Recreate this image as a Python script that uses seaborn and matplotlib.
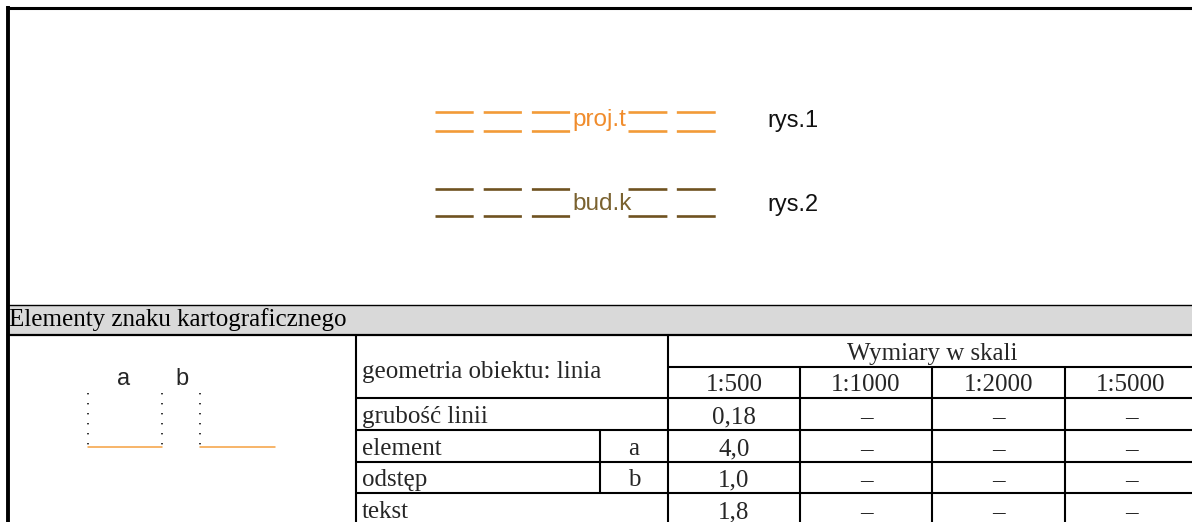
import matplotlib
matplotlib.use("Agg")
import matplotlib.pyplot as plt
import seaborn as sns

# Dane tabeli
skale = ["1:500", "1:1000", "1:2000", "1:5000"]
wiersze = ["grubość linii", "element", "odstęp", "tekst"]
oznaczenia = ["", "a", "b", ""]
wymiary_500 = ["0,18", "4,0", "1,0", "1,8"]
wymiary_1000 = ["–", "–", "–", "–"]
wymiary_2000 = ["–", "–", "–", "–"]
wymiary_5000 = ["–", "–", "–", "–"]

# Opisy znaków
znaki = ["proj.t", "bud.k"]
rysunki = ["rys.1", "rys.2"]
kolory_linii = ["#f29b38", "#6f5220"]
kolory_tekstu = ["#f08c2c", "#7a6230"]

sns.set_theme(style="white")
plt.rcParams["lines.scale_dashes"] = False
SERIF = ["Liberation Serif", "DejaVu Serif"]
SANS = ["Liberation Sans", "DejaVu Sans"]

W, H = 1192, 522
fig = plt.figure(figsize=(W / 100, H / 100), dpi=100)
ax = fig.add_axes([0, 0, 1, 1])
ax.set_xlim(0, W)
ax.set_ylim(H, 0)
ax.axis("off")

# Ramka górna
ax.plot([6, W], [7.5, 7.5], color="black", lw=2.2, solid_capstyle="butt")
ax.plot([8, 8], [6, H], color="black", lw=2.8, solid_capstyle="butt")

# Znaki rys.1 i rys.2
poz_y = [(112, 131), (189, 216)]
baza = [126, 210]
for i in range(2):
    for y in poz_y[i]:
        ax.plot([435, 571], [y, y], color=kolory_linii[i], lw=1.9,
                dashes=(27.5, 7.2), solid_capstyle="butt")
        ax.plot([628, 716], [y, y], color=kolory_linii[i], lw=1.9,
                dashes=(28, 6.8), solid_capstyle="butt")
    ax.text(572, baza[i], znaki[i], color=kolory_tekstu[i], fontsize=17.5,
            family=SANS, va="baseline", ha="left")
    ax.text(767, baza[i] + 1, rysunki[i], color="#111111", fontsize=17,
            family=SANS, va="baseline", ha="left")

# Pasek tytułowy
ax.fill_between([8, W], 305, 335, color="#d9d9d9", lw=0)
ax.plot([8, W], [305, 305], color="black", lw=1.0)
ax.plot([8, W], [335, 335], color="black", lw=1.6)
ax.text(9, 326, "Elementy znaku kartograficznego", fontsize=18,
        family=SERIF, va="baseline", ha="left", color="black")

# Rysunek objaśniający a, b
ax.text(124, 385, "a", fontsize=17, family=SANS, ha="center", va="baseline")
ax.text(182, 385, "b", fontsize=17, family=SANS, ha="center", va="baseline")
for x in [88, 162, 200]:
    ax.plot([x, x], [393, 447], color="black", lw=1.1, dashes=(1.0, 6.2))
ax.plot([88, 162], [447, 447], color="#f5a040", lw=1.1)
ax.plot([200, 275], [447, 447], color="#f5a040", lw=1.1)

# Tabela wymiarów
kol_x = [668, 800, 932, 1065, 1197]
rz_y = [335, 367, 398, 430, 462, 493, 525]
lw_t = 1.5

ax.plot([356, 356], [335, H], color="black", lw=lw_t)
ax.plot([668, 668], [335, H], color="black", lw=lw_t)
for x in kol_x[1:4]:
    ax.plot([x, x], [367, H], color="black", lw=lw_t)
ax.plot([600, 600], [430, 493], color="black", lw=lw_t)
ax.plot([668, W], [367, 367], color="black", lw=lw_t)
for y in rz_y[2:6]:
    ax.plot([356, W], [y, y], color="black", lw=lw_t)

fs = 18
ax.text(362, 378, "geometria obiektu: linia", fontsize=fs, family=SERIF,
        va="baseline", ha="left")
ax.text((kol_x[0] + kol_x[-1]) / 2, 360, "Wymiary w skali", fontsize=fs,
        family=SERIF, va="baseline", ha="center")
for j, s in enumerate(skale):
    ax.text((kol_x[j] + kol_x[j + 1]) / 2, 391, s, fontsize=fs,
            family=SERIF, va="baseline", ha="center")

kolumny = [wymiary_500, wymiary_1000, wymiary_2000, wymiary_5000]
for i, nazwa in enumerate(wiersze):
    y0, y1 = rz_y[i + 2], rz_y[i + 3]
    yb = y1 - 7
    ax.text(362, yb, nazwa, fontsize=fs, family=SERIF, va="baseline",
            ha="left")
    if oznaczenia[i]:
        ax.text(634, yb, oznaczenia[i], fontsize=fs, family=SERIF,
                va="baseline", ha="center")
    for j, kol in enumerate(kolumny):
        ax.text((kol_x[j] + kol_x[j + 1]) / 2, yb, kol[i], fontsize=fs,
                family=SERIF, va="baseline", ha="center")

fig.savefig("out.png", dpi=100)
